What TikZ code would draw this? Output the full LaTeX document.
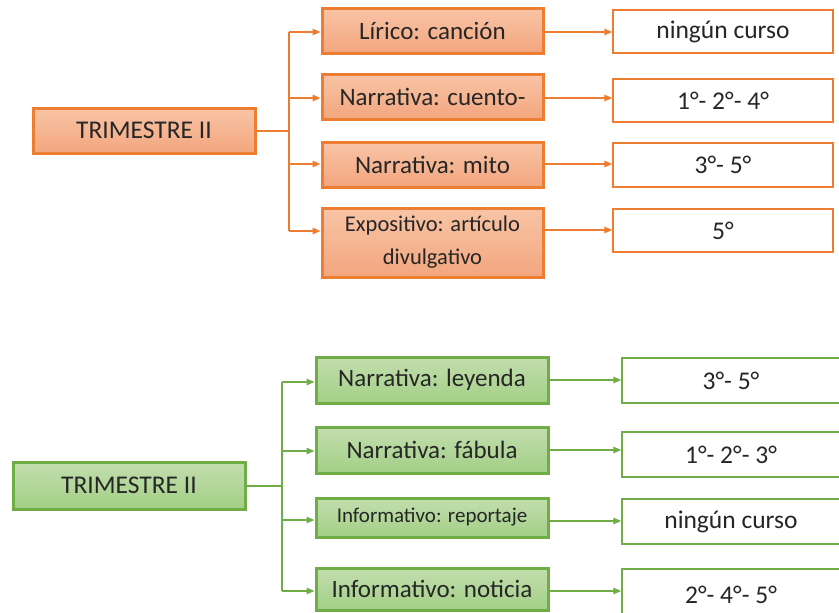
\documentclass[tikz,border=0pt]{standalone}
\usepackage{fontspec}
\setmainfont{Carlito}
\usetikzlibrary{arrows.meta}
\definecolor{orline}{HTML}{ED7D31}
\definecolor{ortop}{HTML}{F8C4A6}
\definecolor{orbot}{HTML}{F3A67E}
\definecolor{grline}{HTML}{70AD47}
\definecolor{grtop}{HTML}{C2DEAE}
\definecolor{grbot}{HTML}{A3CF86}
\tikzset{
  px/.style={x=1pt,y=-1pt},
  orbox/.style={draw=orline,line width=3pt,top color=ortop,bottom color=orbot,
    inner sep=0pt,align=center,text=black!85},
  grbox/.style={draw=grline,line width=3pt,top color=grtop,bottom color=grbot,
    inner sep=0pt,align=center,text=black!85},
  orout/.style={draw=orline,line width=1.4pt,fill=white,inner sep=0pt,text=black!85},
  grout/.style={draw=grline,line width=1.4pt,fill=white,inner sep=0pt,text=black!85},
  orlink/.style={draw=orline,line width=1.4pt},
  grlink/.style={draw=grline,line width=1.4pt},
  tip/.style={-{Triangle[length=8pt,width=6.5pt]}},
  big/.style={font=\fontsize{25.5}{30}\selectfont},
  mid/.style={font=\fontsize{25}{30}\selectfont},
  small/.style={font=\fontsize{22.5}{33}\selectfont},
  tiny/.style={font=\fontsize{21}{26}\selectfont},
}
% a box from its corners: #1 name, #2 style, (x1,y1) (x2,y2), text
\newcommand{\boxat}[7]{%
  \node[#2,minimum width={(#5-#3)*1pt},minimum height={(#6-#4)*1pt}]
    (#1) at ({(#3+#5)/2},{(#4+#6)/2}) {#7};}
\begin{document}
\begin{tikzpicture}[px]
\useasboundingbox (0,0) rectangle (839,613);
\clip (0,0) rectangle (839,613);
\fill[white] (0,0) rectangle (839,613);

% ---------- upper tree ----------
\boxat{ta}{orbox,big}{33}{108}{255}{153}{TRIMESTRE II}
\boxat{a1}{orbox,mid}{322}{8}{543}{53}{Lírico: canción}
\boxat{a2}{orbox,mid}{322}{74}{543}{119}{Narrativa: cuento-}
\boxat{a3}{orbox,mid}{322}{142}{543}{187}{Narrativa: mito}
\boxat{a4}{orbox,small}{322}{208}{543}{277}{Expositivo: artículo\\divulgativo}
\boxat{b1}{orout,big}{613}{10}{833}{53}{ningún curso}
\boxat{b2}{orout,big}{613}{79}{833}{122}{1°- 2°- 4°}
\boxat{b3}{orout,big}{613}{143}{833}{187}{3°- 5°}
\boxat{b4}{orout,big}{613}{209}{833}{252}{5°}

\coordinate (tj) at (289,131);
\draw[orlink] (ta.east |- tj) -- (tj);
\draw[orlink] (289,32) -- (289,231);
\foreach \n/\y in {a1/32,a2/98,a3/164,a4/231}
  \draw[orlink,tip] (289,\y) -- (\n.west |- 0,\y);
\foreach \n/\m/\y in {a1/b1/32,a2/b2/98,a3/b3/164,a4/b4/230}
  \draw[orlink,tip] (\n.east |- 0,\y) -- (\m.west |- 0,\y);

% ---------- lower tree ----------
\boxat{tb}{grbox,big}{13}{462}{245}{509}{TRIMESTRE II}
\boxat{c1}{grbox,mid}{316}{357}{548}{403}{Narrativa: leyenda}
\boxat{c2}{grbox,mid}{316}{427}{548}{473}{Narrativa: fábula}
\boxat{c3}{grbox,tiny}{316}{498}{548}{537}{Informativo: reportaje}
\boxat{c4}{grbox,mid}{316}{568}{548}{610}{Informativo: noticia}
\boxat{d1}{grout,big}{622}{358}{900}{403}{\hspace*{-60pt}3°- 5°}
\boxat{d2}{grout,big}{622}{432}{900}{477}{\hspace*{-60pt}1°- 2°- 3°}
\boxat{d3}{grout,big}{622}{499}{900}{544}{\hspace*{-60pt}ningún curso}
\boxat{d4}{grout,big}{622}{569}{900}{630}{\hspace*{-60pt}\raisebox{10pt}{2°- 4°- 5°}}

\coordinate (bj) at (282,486);
\draw[grlink] (tb.east |- bj) -- (bj);
\draw[grlink] (282,382) -- (282,591);
\foreach \n/\y in {c1/382,c2/451,c3/520,c4/591}
  \draw[grlink,tip] (282,\y) -- (\n.west |- 0,\y);
\foreach \n/\m/\y in {c1/d1/380,c2/d2/450,c3/d3/521,c4/d4/591}
  \draw[grlink,tip] (\n.east |- 0,\y) -- (\m.west |- 0,\y);
\end{tikzpicture}
\end{document}
